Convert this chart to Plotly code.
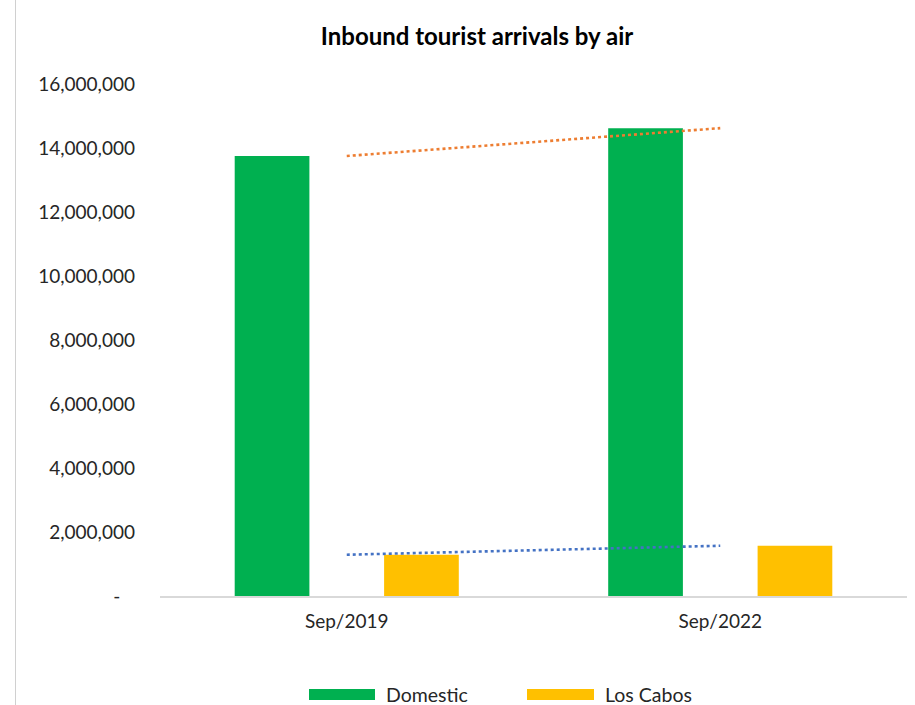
import plotly.graph_objects as go

# Arrivals by air, September of each year
periods = ["Sep/2019", "Sep/2022"]
series_names = ["Domestic", "Los Cabos"]
domestic = [13750000, 14620000]
los_cabos = [1290000, 1570000]

y_ticks = [0, 2000000, 4000000, 6000000, 8000000, 10000000, 12000000, 14000000, 16000000]
y_tick_text = ["-\u00a0\u00a0\u00a0"] + [f"{v:,}" for v in y_ticks[1:]]

bar_colors = ["#00B050", "#FFC000"]
trend_colors = ["#ED7D31", "#4472C4"]
font_family = "Lato, 'Open Sans', sans-serif"

W, H = 915, 705
ML, MR, MT, MB = 160, 8, 84, 109

xpos = list(range(len(periods)))
fig = go.Figure()
for name, vals, col in zip(series_names, [domestic, los_cabos], bar_colors):
    fig.add_trace(go.Bar(x=xpos, y=vals, name=name, marker=dict(color=col, line=dict(width=0)),
                         showlegend=False))

# Linear trendlines through each series across the two periods
for vals, col in zip([domestic, los_cabos], trend_colors):
    fig.add_trace(go.Scatter(x=xpos, y=vals, mode="lines", showlegend=False,
                             line=dict(color=col, width=2.6, dash="dot")))

pw = W - ML - MR
def px_x(p):
    return (p - ML) / pw
ph = H - MT - MB
def px_y(p):
    return (H - MB - p) / ph

# Legend swatches and labels along the bottom
shapes = []
annotations = []
legend_items = [(309, 375, 384), (527, 594, 603)]
for (x0, x1, tx), name, col in zip(legend_items, series_names, bar_colors):
    shapes.append(dict(type="rect", xref="paper", yref="paper",
                       x0=px_x(x0), x1=px_x(x1), y0=px_y(700), y1=px_y(689),
                       fillcolor=col, line=dict(width=0), layer="above"))
    annotations.append(dict(xref="paper", yref="paper", x=px_x(tx), y=px_y(694),
                            text=name, showarrow=False, xanchor="left", yanchor="middle",
                            font=dict(size=19.5, color="#262626", family=font_family)))

# Left border of the chart area
shapes.append(dict(type="line", xref="paper", yref="paper",
                   x0=px_x(15.5), x1=px_x(15.5), y0=px_y(0), y1=px_y(705),
                   line=dict(color="#D0D0D0", width=1)))

fig.update_layout(
    width=W, height=H,
    margin=dict(l=ML, r=MR, t=MT, b=MB),
    paper_bgcolor="white", plot_bgcolor="white",
    barmode="group", bargap=0.2, bargroupgap=0.5,
    title=dict(text="<b>Inbound tourist arrivals by air</b>", x=(477) / W, xanchor="center",
               y=1 - 37 / H, yanchor="middle",
               font=dict(size=24, color="#000000", family=font_family)),
    font=dict(family=font_family, color="#262626"),
    shapes=shapes, annotations=annotations,
    xaxis=dict(range=[-0.5, 1.5], tickvals=xpos, ticktext=periods, showgrid=False,
               showline=True, linecolor="#D9D9D9", linewidth=1.5, ticks="", zeroline=False,
               tickfont=dict(size=19, color="#262626"), ticklabelstandoff=7),
    yaxis=dict(range=[0, 16000000], tickvals=y_ticks, ticktext=y_tick_text, showgrid=False,
               zeroline=False, showline=False, ticks="",
               tickfont=dict(size=19, color="#262626"), ticklabelstandoff=24),
)

fig.write_html("out.html")
